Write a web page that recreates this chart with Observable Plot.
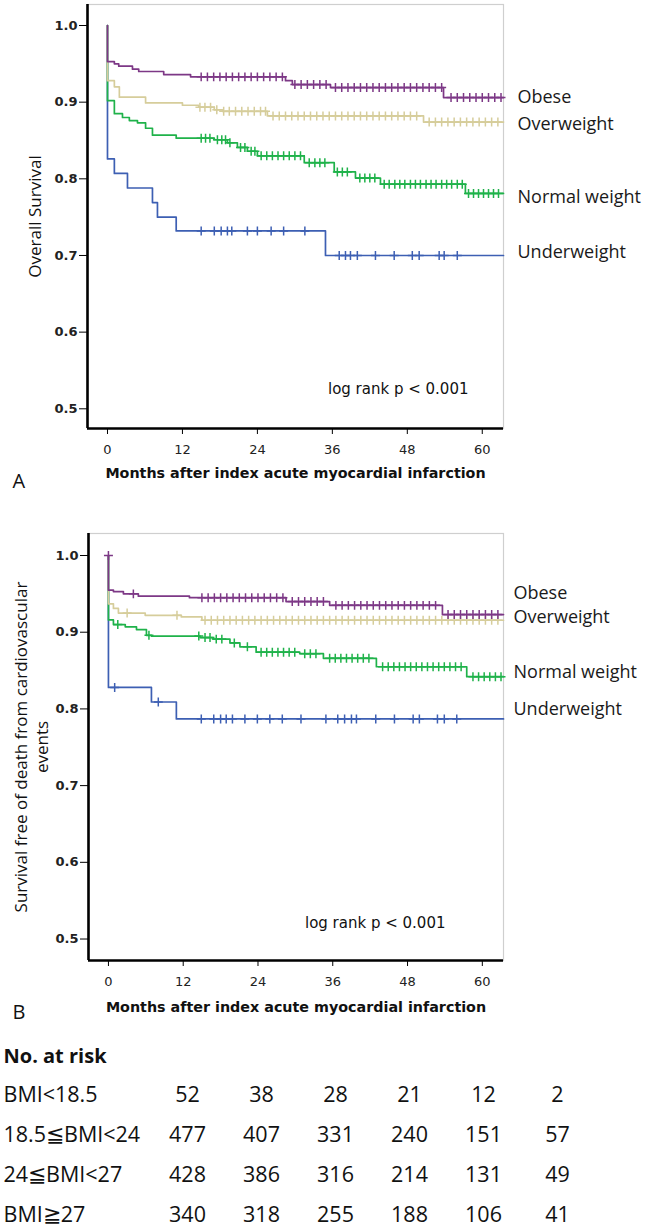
<!DOCTYPE html>
<html><head><meta charset="utf-8">
<script src="https://cdn.jsdelivr.net/npm/d3@7"></script>
<script src="https://cdn.jsdelivr.net/npm/@observablehq/plot@0.6"></script>
<style>
body{margin:0;background:#fff;width:646px;overflow:hidden;}
svg{display:block;}
</style></head><body><div id="chart"></div>
<script>
// ---------- data ----------
const groups = ["Underweight", "Normal weight", "Overweight", "Obese"];
const colors = ["#3d5fb3", "#1fb24a", "#d6cd9b", "#7d3886"];
const xTicks = [0, 12, 24, 36, 48, 60];
const yTicks = [0.5, 0.6, 0.7, 0.8, 0.9, 1.0];
const xTitle = "Months after index acute myocardial infarction";
const yTitleA = "Overall Survival";
const yTitleB = "Survival free of death from cardiovascular\nevents";
const logRank = "log rank p < 0.001";

// Panel A : [month, survival] steps
const stepsA_under = [[0,1],[0,0.826],[1.1,0.807],[3.2,0.788],[7.2,0.769],[8,0.750],[11,0.732],[34.9,0.700],[63.4,0.700]];
const stepsA_normal = [[0,1],[0,0.902],[1.1,0.885],[2.4,0.880],[3.5,0.876],[4.8,0.873],[6.1,0.866],[7.2,0.857],[11,0.853],[17.1,0.851],[19.2,0.847],[20.8,0.841],[22.4,0.836],[24,0.830],[31.5,0.821],[36.3,0.809],[39.7,0.801],[43.7,0.793],[57.3,0.781],[63.4,0.781]];
const stepsA_over = [[0,1],[0,0.928],[1.1,0.920],[1.9,0.9065],[6.1,0.899],[12,0.896],[14.6,0.8935],[17.1,0.890],[18.4,0.888],[25.6,0.882],[50.6,0.874],[63.4,0.874]];
const stepsA_obese = [[0,1],[0,0.953],[1.1,0.950],[1.8,0.947],[4,0.943],[5,0.940],[9,0.936],[13.3,0.933],[28.5,0.928],[29.6,0.923],[35.7,0.919],[53.8,0.906],[63.4,0.906]];

// Panel A : censored months
const censA_under = [15,17.1,18.2,19.2,19.9,22.4,24,26.2,28.2,31.6,37.1,38.1,38.9,40,42.9,45.9,48.8,49.9,53.1,53.9,56];
const censA_normal = [15,15.7,16.4,17.6,18.3,18.9,19.6,21.3,22,23,23.6,24.6,25.5,26.4,27.3,28.2,29.1,30,30.9,32.3,33.2,34,34.8,36.8,37.6,38.4,40.4,41.2,42,42.8,44.3,45.1,46,46.8,47.6,48.5,49.3,50.1,51,51.8,52.6,53.5,54.3,55.1,56,56.8,57.8,58.6,59.4,60.2,61,61.8,62.6];
const censA_over = [14.8,15.6,16.5,17.5,18.6,19.5,20.5,21.5,22.5,23.5,24.5,25.3,26.5,27.5,28.5,29.5,30.5,31.5,32.5,33.5,34.5,35.5,36.5,37.5,38.5,39.5,40.5,41.5,42.5,43.5,44.5,45.5,46.5,47.5,48.5,49.5,51.5,52.5,53.5,54.5,55.5,56.5,57.5,58.5,59.5,60.5,61.5,62.5];
const censA_obese = [15,16,17,18,19,20,21,22,23,24,25,26,27,28,30,31,32,33,34,35,36.5,37.5,38.5,39.5,40.5,41.5,42.5,43.5,44.5,45.5,46.5,47.5,48.5,49.5,50.5,51.5,52.5,53.5,55,56,57,58,59,60,61,62,63];

// Panel B : [month, survival] steps
const stepsB_under = [[0,1],[0,0.828],[6.9,0.809],[10.9,0.787],[63.4,0.787]];
const stepsB_normal = [[0,1],[0,0.916],[0.8,0.910],[2.7,0.907],[4.5,0.9035],[6.1,0.896],[6.9,0.895],[14.7,0.893],[16.8,0.891],[19.5,0.886],[21.1,0.881],[23.7,0.874],[30.7,0.872],[34.5,0.866],[43,0.855],[57.5,0.842],[63.4,0.842]];
const stepsB_over = [[0,1],[0,0.937],[0.8,0.931],[1.6,0.925],[5.9,0.922],[11.7,0.920],[15,0.9156],[63.4,0.9156]];
const stepsB_obese = [[0,1],[0,0.955],[0.8,0.953],[2.4,0.950],[4.8,0.947],[13,0.945],[28.5,0.940],[35.5,0.935],[53.6,0.923],[63.4,0.923]];

// Panel B : censored months
const censB_under = [1,8,14.9,16.9,18,18.9,19.9,21.9,23.9,25.9,27.9,30.9,34.9,36.8,37.9,39,39.8,42.9,45.9,48.9,49.9,52.8,53.9,55.9];
const censB_normal = [1.5,6.5,14.5,15.5,16.3,17.3,18.2,20.2,22.3,24.5,25.4,26.3,27.2,28.1,29,29.9,31.5,32.4,33.3,35.5,36.4,37.3,38.2,39.1,40,40.9,41.8,44,44.9,45.8,46.7,47.6,48.5,49.4,50.3,51.2,52.1,53,53.9,54.8,55.7,56.6,58.5,59.4,60.3,61.2,62.1,63];
const censB_over = [3,11,15.5,16.5,17.5,18.5,19.5,20.5,21.5,22.5,23.5,24.5,25.5,26.5,27.5,28.5,29.5,30.5,31.5,32.5,33.5,34.5,35.5,36.5,37.5,38.5,39.5,40.5,41.5,42.5,43.5,44.5,45.5,46.5,47.5,48.5,49.5,50.5,51.5,52.5,53.5,54.5,55.5,56.5,57.5,58.5,59.5,60.5,61.5,62.5];
const censB_obese = [0,4,15,16,17,18,19,20,21,22,23,24,25,26,27,28,29.5,30.5,31.5,32.5,33.5,34.5,36.5,37.5,38.5,39.5,40.5,41.5,42.5,43.5,44.5,45.5,46.5,47.5,48.5,49.5,50.5,51.5,52.5,54.5,55.5,56.5,57.5,58.5,59.5,60.5,61.5,62.5];

// Number at risk table
const riskMonths = [0, 12, 24, 36, 48, 60];
const riskLabels = ["BMI<18.5", "18.5≦BMI<24", "24≦BMI<27", "BMI≧27"];
const risk_under = [52, 38, 28, 21, 12, 2];
const risk_normal = [477, 407, 331, 240, 151, 57];
const risk_over = [428, 386, 316, 214, 131, 49];
const risk_obese = [340, 318, 255, 188, 106, 41];

// ---------- helpers ----------
function valueAt(steps, t) {
  let v = steps[0][1];
  for (const [st, sv] of steps) if (st < t) v = sv;
  return v;
}
function panel(o) {
  const xDomain = [-3.2, 63.4];
  const marks = [
    Plot.frame({stroke: "#cfcfcf", strokeWidth: 1.2}),
  ];
  o.steps.forEach((s, i) => {
    const data = s.map(([t, v]) => ({t, v}));
    marks.push(Plot.line(data, {x: "t", y: "v", curve: "step-after", stroke: colors[i], strokeWidth: 1.7}));
    const cd = o.cens[i].map(t => ({t, v: valueAt(s, t)}));
    marks.push(Plot.dot(cd, {x: "t", y: "v", symbol: "plus", r: 3, stroke: colors[i], strokeWidth: 1.5}));
  });
  // end labels
  groups.forEach((g, i) => {
    const s = o.steps[i];
    marks.push(Plot.text([g], {x: s[s.length - 1][0], y: s[s.length - 1][1], text: d => d, textAnchor: "start",
      dx: o.labelDx, dy: o.labelDy[i], fontSize: 18, fontFamily: "Open Sans", fill: "#1a1a1a"}));
  });
  marks.push(
    Plot.ruleX([xDomain[0]], {stroke: "black", strokeWidth: 2.6}),
    Plot.ruleY([o.yDomain[0]], {stroke: "black", strokeWidth: 2.6}),
    Plot.axisY(yTicks, {tickSize: 8, tickPadding: 2, tickFormat: d3.format(".1f"), fontWeight: "bold", fontSize: 13, label: null, stroke: "black", fill: "#222"}),
    Plot.axisX(xTicks, {tickSize: 6, tickPadding: 10, label: null, fontSize: 13, stroke: "black", fill: "#222"}),
    Plot.text([xTitle], {frameAnchor: "bottom", dy: o.xTitleDy, lineAnchor: "middle", fontWeight: "bold", fontSize: 14.3, fill: "#111"}),
    Plot.text([o.yTitle], {frameAnchor: "left", rotate: -90, dx: o.yTitleDx, textAnchor: "middle", lineAnchor: "middle", lineHeight: 1.25, fontSize: 17, fontFamily: "Open Sans", fill: "#111"}),
    Plot.text([logRank], {frameAnchor: "bottom-right", textAnchor: "end", dx: o.logDx, dy: o.logDy, lineAnchor: "middle", fontSize: 15, fill: "#111"}),
    Plot.text([o.letter], {frameAnchor: "bottom-left", dx: o.letterDx, dy: o.letterDy, lineAnchor: "middle", fontSize: 20, fontFamily: "Open Sans", fill: "#111"})
  );
  return Plot.plot({
    width: 646, height: o.height,
    marginTop: o.marginTop, marginBottom: o.marginBottom, marginLeft: o.marginLeft, marginRight: 143,
    style: {fontFamily: "DejaVu Sans", background: "white", overflow: "visible"},
    x: {domain: xDomain, axis: null},
    y: {domain: o.yDomain, axis: null},
    marks
  });
}

const chart = document.getElementById("chart");
chart.append(panel({
  steps: [stepsA_under, stepsA_normal, stepsA_over, stepsA_obese],
  cens: [censA_under, censA_normal, censA_over, censA_obese],
  height: 490, marginTop: 4, marginBottom: 62, marginLeft: 87,
  yDomain: [0.4743, 1.0274],
  yTitle: yTitleA, yTitleDx: -53,
  labelDx: 14, labelDy: [-3, 4, 2, 0],
  logDx: -35, logDy: -39,
  letter: "A", letterDx: -75, letterDy: 53, xTitleDy: 45
}));
chart.append(panel({
  steps: [stepsB_under, stepsB_normal, stepsB_over, stepsB_obese],
  cens: [censB_under, censB_normal, censB_over, censB_obese],
  height: 535, marginTop: 43, marginBottom: 65, marginLeft: 88,
  yDomain: [0.472, 1.0287],
  yTitle: yTitleB, yTitleDx: -58,
  labelDx: 10, labelDy: [-10, -4.5, -3.5, -21],
  logDx: -58, logDy: -37,
  letter: "B", letterDx: -76, letterDy: 52, xTitleDy: 47
}));

// risk table
const riskRows = [risk_under, risk_normal, risk_over, risk_obese];
const riskData = [];
riskRows.forEach((row, i) => row.forEach((n, j) => riskData.push({label: riskLabels[i], month: riskMonths[j], n})));
chart.append(Plot.plot({
  width: 646, height: 204,
  marginTop: 0, marginBottom: 0, marginLeft: 3, marginRight: 0,
  style: {fontFamily: "Open Sans", background: "white"},
  x: {domain: [0, 60], range: [187, 557], axis: null},
  y: {type: "point", domain: riskLabels, range: [70, 190], padding: 0, axis: null},
  marks: [
    Plot.text(["No. at risk"], {frameAnchor: "top-left", dy: 31, textAnchor: "start", lineAnchor: "middle", fontWeight: "bold", fontSize: 20, fill: "#111"}),
    Plot.text(riskLabels, {y: d => d, frameAnchor: "left", textAnchor: "start", lineAnchor: "middle", fontSize: 21.5, fill: "#111"}),
    Plot.text(riskData, {x: "month", y: "label", text: "n", lineAnchor: "middle", fontSize: 21.5, fill: "#111"})
  ]
}));
</script></body></html>
